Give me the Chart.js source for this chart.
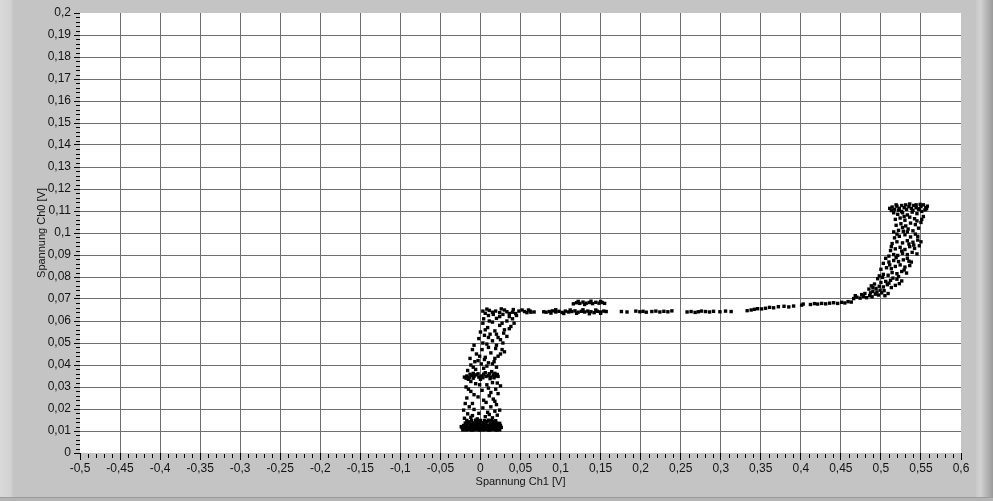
<!DOCTYPE html>
<html>
<head>
<meta charset="utf-8">
<script src="https://cdn.jsdelivr.net/npm/chart.js@4/dist/chart.umd.min.js"></script>
<style>
html,body{margin:0;padding:0;background:#c4c4c4;}
canvas{display:block;}
</style>
</head>
<body>
<canvas id="c" width="993" height="501"></canvas>
<script>
// ---------- DATA ----------
const xTickValues = [-0.5,-0.45,-0.4,-0.35,-0.3,-0.25,-0.2,-0.15,-0.1,-0.05,0,0.05,0.1,0.15,0.2,0.25,0.3,0.35,0.4,0.45,0.5,0.55,0.6];
const xTickLabels = ["-0,5","-0,45","-0,4","-0,35","-0,3","-0,25","-0,2","-0,15","-0,1","-0,05","0","0,05","0,1","0,15","0,2","0,25","0,3","0,35","0,4","0,45","0,5","0,55","0,6"];
const yTickValues = [0,0.01,0.02,0.03,0.04,0.05,0.06,0.07,0.08,0.09,0.1,0.11,0.12,0.13,0.14,0.15,0.16,0.17,0.18,0.19,0.2];
const yTickLabels = ["0","0,01","0,02","0,03","0,04","0,05","0,06","0,07","0,08","0,09","0,1","0,11","0,12","0,13","0,14","0,15","0,16","0,17","0,18","0,19","0,2"];
const xAxisTitle = "Spannung Ch1 [V]";
const yAxisTitle = "Spannung Ch0 [V]";

// Vertical cluster near Ch1 = 0 V : [Ch1, Ch0]
const columnPoints = [
 [-0.022,0.0105],[-0.018,0.0105],[-0.015,0.0106],[-0.011,0.0104],[-0.008,0.0105],[-0.004,0.0106],[-0.001,0.0104],[0.003,0.0105],[0.006,0.0106],[0.010,0.0104],[0.013,0.0105],[0.017,0.0106],[0.020,0.0104],[0.024,0.0105],
 [-0.023,0.0115],[-0.019,0.0114],[-0.016,0.0116],[-0.012,0.0115],[-0.009,0.0114],[-0.005,0.0116],[-0.002,0.0115],[0.002,0.0114],[0.005,0.0116],[0.009,0.0115],[0.012,0.0114],[0.016,0.0116],[0.019,0.0115],[0.023,0.0114],[0.026,0.0116],
 [-0.021,0.0125],[-0.017,0.0126],[-0.013,0.0124],[-0.010,0.0125],[-0.006,0.0126],[-0.003,0.0124],[0.001,0.0125],[0.004,0.0126],[0.008,0.0124],[0.011,0.0125],[0.015,0.0126],[0.018,0.0124],[0.022,0.0125],
 [-0.019,0.0136],[-0.014,0.0135],[-0.009,0.0137],[-0.005,0.0136],[-0.001,0.0135],[0.003,0.0137],[0.007,0.0136],[0.012,0.0135],[0.016,0.0137],[0.020,0.0136],[0.024,0.0135],
 [-0.017,0.0148],[-0.011,0.0147],[-0.006,0.0149],[0.000,0.0148],[0.005,0.0147],[0.010,0.0149],[0.014,0.0148],[0.019,0.0147],
 [-0.020,0.0110],[-0.013,0.0110],[-0.006,0.0111],[0.000,0.0110],[0.007,0.0111],[0.014,0.0110],[0.021,0.0111],[-0.018,0.0130],[-0.011,0.0131],[-0.003,0.0130],[0.006,0.0131],[0.013,0.0130],[0.020,0.0131],[-0.015,0.0142],[-0.003,0.0142],[0.008,0.0143],[0.017,0.0142],[0.025,0.0125],[-0.024,0.0120],
 [-0.020,0.0158],[-0.012,0.0162],[-0.004,0.0155],[0.006,0.0165],[0.015,0.0160],[0.021,0.0172],[-0.016,0.0178],[-0.002,0.0180],[0.009,0.0185],[0.018,0.0190],[0.024,0.0195],[-0.021,0.0195],[-0.008,0.0198],[0.003,0.0205],[0.013,0.0210],[-0.014,0.0210],[0.020,0.0220],
 [-0.010,0.0170],[0.011,0.0175],[-0.019,0.0225],[0.004,0.0240],[0.018,0.0235],[-0.008,0.0265],[0.013,0.0275],[-0.015,0.0290],[0.010,0.0295],[-0.001,0.0310],[0.021,0.0318],[-0.012,0.0325],
 [-0.010,0.0225],[0.007,0.0230],[0.016,0.0245],[-0.017,0.0250],[-0.003,0.0255],[0.011,0.0260],[0.022,0.0270],[-0.012,0.0280],[0.002,0.0285],[0.019,0.0290],[-0.018,0.0300],[0.008,0.0310],[-0.006,0.0315],[0.015,0.0320],[0.025,0.0305],
 [-0.020,0.0345],[-0.017,0.0350],[-0.014,0.0342],[-0.011,0.0352],[-0.008,0.0348],[-0.005,0.0355],[-0.002,0.0345],[0.001,0.0350],[0.004,0.0358],[0.007,0.0348],[0.010,0.0352],[0.013,0.0345],[0.016,0.0355],[0.019,0.0350],[0.022,0.0348],[-0.015,0.0335],[0.000,0.0335],[0.012,0.0338],[-0.009,0.0362],[0.006,0.0365],[0.018,0.0362],
 [-0.018,0.0340],[-0.009,0.0340],[0.003,0.0342],[0.017,0.0342],[-0.013,0.0358],[-0.003,0.0360],[0.011,0.0360],[0.021,0.0357],
 [-0.016,0.0375],[-0.006,0.0380],[0.004,0.0385],[0.014,0.0370],[0.020,0.0390],[-0.012,0.0400],[0.001,0.0405],[0.010,0.0410],[-0.003,0.0420],[0.017,0.0415],
 [-0.009,0.0390],[0.008,0.0395],[0.015,0.0405],[-0.007,0.0415],[0.005,0.0425],[0.018,0.0430],[-0.001,0.0440],
 [-0.013,0.0430],[0.006,0.0435],[0.022,0.0440],[-0.005,0.0450],[0.013,0.0455],[0.030,0.0460],[-0.010,0.0470],[0.002,0.0470],[0.019,0.0475],[0.025,0.0450],
 [0.027,0.0470],[0.010,0.0480],[0.020,0.0490],[0.003,0.0500],[0.025,0.0515],[0.010,0.0525],[0.029,0.0545],[0.020,0.0540],
 [-0.008,0.0490],[0.008,0.0495],[0.028,0.0500],[0.015,0.0510],[-0.002,0.0520],[0.022,0.0525],[0.033,0.0530],[0.005,0.0535],[0.012,0.0540],
 [0.000,0.0550],[0.018,0.0555],[0.030,0.0560],[0.009,0.0570],[0.038,0.0575],[0.024,0.0580],[0.003,0.0590],[0.015,0.0595],[0.042,0.0590],[0.033,0.0600],
 [0.006,0.0560],[0.036,0.0565],[0.027,0.0590],[0.011,0.0600],[0.040,0.0610],[0.024,0.0620],[0.016,0.0630],
 [0.004,0.0610],[0.020,0.0612],[0.036,0.0620],[0.010,0.0625],[0.028,0.0630],[0.045,0.0625],[0.006,0.0635],[0.015,0.0640],[0.024,0.0638],[0.033,0.0642],[0.040,0.0640],[0.048,0.0645],[0.055,0.0643],[0.062,0.0645],[0.003,0.0645],[0.011,0.0648],[0.019,0.0645],[0.052,0.0650],[0.030,0.0650],
 [0.036,0.0634],[0.044,0.0634],[0.058,0.0638],[0.008,0.0654],[0.026,0.0655],[0.041,0.0652],[0.063,0.0640],[0.060,0.0650],[0.067,0.0641]
];

// Plateau around Ch0 = 0.064 ... 0.069 V
const plateauPoints = [
 [0.079,0.0642],[0.082,0.0640],[0.086,0.0643],[0.090,0.0646],[0.094,0.0641],[0.098,0.0644],[0.102,0.0639],[0.106,0.0645],[0.110,0.0641],[0.114,0.0643],[0.118,0.0646],[0.122,0.0640],[0.126,0.0644],[0.130,0.0641],[0.134,0.0645],[0.138,0.0642],[0.142,0.0638],[0.146,0.0644],[0.150,0.0641],[0.154,0.0645],[0.157,0.0643],
 [0.088,0.0636],[0.104,0.0634],[0.120,0.0635],[0.136,0.0633],[0.150,0.0635],[0.094,0.0651],[0.112,0.0650],[0.128,0.0651],[0.144,0.0650],
 [0.116,0.0678],[0.120,0.0683],[0.124,0.0680],[0.128,0.0686],[0.132,0.0681],[0.136,0.0684],[0.140,0.0679],[0.144,0.0685],[0.148,0.0681],[0.152,0.0684],[0.155,0.0680],[0.122,0.0689],[0.138,0.0690],[0.150,0.0689],[0.130,0.0675],
 [0.176,0.0643],[0.183,0.0641],[0.194,0.0645],[0.199,0.0642],[0.203,0.0644],[0.207,0.0640],[0.214,0.0643],[0.219,0.0645],[0.224,0.0641],[0.229,0.0644],[0.234,0.0642],[0.239,0.0646],
 [0.258,0.0641],[0.263,0.0643],[0.268,0.0639],[0.272,0.0642],[0.276,0.0645],[0.281,0.0643],[0.286,0.0641],[0.291,0.0644],[0.299,0.0642],[0.306,0.0645],[0.313,0.0643],
 [0.333,0.0647],[0.338,0.0650],[0.342,0.0653],[0.346,0.0656],[0.351,0.0655],[0.356,0.0658],[0.361,0.0662],[0.366,0.0660],[0.372,0.0665],[0.379,0.0667],[0.385,0.0664],[0.391,0.0668],
 [0.401,0.0672],[0.403,0.0677],[0.412,0.0675],[0.417,0.0679],[0.421,0.0677],[0.426,0.0680],[0.431,0.0678],[0.436,0.0681],[0.441,0.0683],[0.446,0.0680],[0.451,0.0685],[0.455,0.0682],[0.459,0.0688],[0.463,0.0686]
];

// Rising branch near Ch1 = 0.5 V
const risePoints = [
 [0.466,0.0702],[0.470,0.0708],[0.474,0.0704],[0.478,0.0712],[0.482,0.0706],[0.486,0.0715],[0.489,0.0710],[0.493,0.0722],[0.497,0.0718],[0.501,0.0728],[0.505,0.0715],[0.509,0.0725],[0.480,0.0725],[0.490,0.0735],[0.499,0.0740],
 [0.468,0.0715],[0.476,0.0720],[0.487,0.0728],[0.495,0.0732],[0.504,0.0738],
 [0.485,0.0745],[0.490,0.0752],[0.494,0.0748],[0.498,0.0758],[0.503,0.0755],[0.508,0.0765],[0.513,0.0752],[0.518,0.0762],[0.523,0.0770],[0.492,0.0768],[0.500,0.0775],[0.506,0.0780],[0.512,0.0785],[0.520,0.0790],[0.496,0.0792],[0.526,0.0782],
 [0.488,0.0760],[0.510,0.0772],[0.515,0.0795],[0.502,0.0798],[0.522,0.0802],
 [0.498,0.0805],[0.503,0.0812],[0.509,0.0808],[0.514,0.0820],[0.520,0.0815],[0.526,0.0825],[0.532,0.0818],[0.500,0.0835],[0.507,0.0842],[0.513,0.0838],[0.518,0.0848],[0.524,0.0855],[0.530,0.0845],[0.536,0.0852],[0.503,0.0862],[0.510,0.0868],[0.516,0.0875],[0.522,0.0870],[0.528,0.0878],[0.538,0.0868],[0.506,0.0885],[0.533,0.0885],
 [0.529,0.0832],[0.511,0.0855],[0.535,0.0872],[0.519,0.0888],
 [0.510,0.0895],[0.516,0.0902],[0.521,0.0898],[0.527,0.0908],[0.533,0.0902],[0.539,0.0912],[0.545,0.0905],[0.512,0.0920],[0.518,0.0928],[0.524,0.0935],[0.530,0.0925],[0.536,0.0938],[0.542,0.0930],[0.548,0.0942],[0.514,0.0952],[0.520,0.0960],[0.527,0.0955],[0.533,0.0965],[0.540,0.0958],[0.546,0.0968],[0.517,0.0978],[0.523,0.0985],[0.530,0.0992],[0.537,0.0982],[0.543,0.0995],
 [0.526,0.0918],[0.541,0.0945],[0.513,0.0938],[0.535,0.0950],[0.550,0.0960],[0.520,0.0995],[0.546,0.0985],
 [0.516,0.1005],[0.522,0.1012],[0.528,0.1008],[0.534,0.1018],[0.540,0.1010],[0.547,0.1022],[0.519,0.1035],[0.525,0.1042],[0.531,0.1032],[0.537,0.1045],[0.543,0.1038],[0.550,0.1048],[0.518,0.1062],[0.524,0.1068],[0.530,0.1058],[0.536,0.1072],[0.542,0.1065],[0.553,0.1075],[0.521,0.1085],[0.527,0.1092],[0.533,0.1082],[0.539,0.1095],[0.545,0.1088],[0.551,0.1098],[0.516,0.1092],
 [0.533,0.1005],[0.527,0.1025],[0.545,0.1055],[0.551,0.1062],[0.529,0.1075],
 [0.511,0.1112],[0.514,0.1118],[0.517,0.1108],[0.520,0.1122],[0.523,0.1112],[0.526,0.1125],[0.529,0.1115],[0.532,0.1108],[0.535,0.1120],[0.538,0.1112],[0.541,0.1125],[0.544,0.1115],[0.547,0.1108],[0.550,0.1120],[0.553,0.1128],[0.556,0.1115],[0.558,0.1122],[0.513,0.1102],[0.522,0.1104],[0.531,0.1128],[0.540,0.1103],[0.549,0.1130],[0.555,0.1105],[0.526,0.1098],[0.536,0.1132],
 [0.548,0.1110],[0.519,0.1128],[0.544,0.1128],[0.557,0.1110]
];

// ---------- STYLE ----------
const GRID = '#6f6f6f';
const TEXT = '#141414';
const FONT = "'Liberation Sans', Arial, sans-serif";

const allPoints = columnPoints.concat(plateauPoints, risePoints).map(p => ({x: p[0], y: p[1]}));

const framePlugin = {
  id: 'frame',
  beforeDraw(chart) {
    const {ctx, width, height, chartArea: a} = chart;
    ctx.save();
    ctx.fillStyle = '#c4c4c4';
    ctx.fillRect(0, 0, width, height);
    let g = ctx.createLinearGradient(0, 0, 13, 0);
    g.addColorStop(0, '#d9d9d9'); g.addColorStop(0.8, '#d3d3d3'); g.addColorStop(1, '#c8c8c8');
    ctx.fillStyle = g; ctx.fillRect(0, 0, 13, height);
    g = ctx.createLinearGradient(976, 0, width, 0);
    g.addColorStop(0, '#c8c8c8'); g.addColorStop(0.25, '#d2d2d2'); g.addColorStop(1, '#9a9a9a');
    ctx.fillStyle = g; ctx.fillRect(976, 0, width - 976, height);
    ctx.fillStyle = '#9c9c9c'; ctx.fillRect(0, 497, width, 1);
    ctx.fillStyle = '#b4b4b4'; ctx.fillRect(0, 498, width, height - 498);
    ctx.fillStyle = '#ffffff';
    ctx.fillRect(a.left, a.top, a.right - a.left, a.bottom - a.top);
    ctx.restore();
  },
  afterDraw(chart) {
    const {ctx, chartArea: a, scales: {x, y}} = chart;
    ctx.save();
    ctx.strokeStyle = '#000';
    ctx.lineWidth = 1;
    ctx.beginPath();
    for (let i = 0; i <= 110; i++) {
      if (i % 5 === 0) continue;
      const px = Math.round(x.getPixelForValue(-0.5 + i * 0.01)) + 0.5;
      ctx.moveTo(px, a.bottom + 1); ctx.lineTo(px, a.bottom + 5);
    }
    for (let i = 0; i <= 100; i++) {
      if (i % 5 === 0) continue;
      const py = Math.round(y.getPixelForValue(i * 0.002)) + 0.5;
      ctx.moveTo(a.left - 4, py); ctx.lineTo(a.left, py);
    }
    ctx.stroke();
    ctx.restore();
  }
};

new Chart(document.getElementById('c'), {
  type: 'scatter',
  data: {
    datasets: [{
      data: allPoints,
      backgroundColor: '#000',
      borderWidth: 0,
      pointStyle: 'rect',
      pointRadius: 2.4,
      pointHoverRadius: 2.4
    }]
  },
  plugins: [framePlugin],
  options: {
    responsive: false,
    animation: false,
    events: [],
    layout: {padding: {left: 0, right: 32, top: 13, bottom: 0}},
    plugins: {legend: {display: false}, tooltip: {enabled: false}},
    scales: {
      x: {
        type: 'linear', min: -0.5, max: 0.6,
        afterBuildTicks: s => { s.ticks = xTickValues.map(v => ({value: v})); },
        afterFit: s => { s.height = 48; },
        ticks: {
          callback: (v, i) => xTickLabels[i],
          autoSkip: false, maxRotation: 0, padding: 1,
          color: TEXT, font: {family: FONT, size: 12}
        },
        grid: {
          color: c => (c.index === 0 || c.index === xTickValues.length - 1) ? 'rgba(0,0,0,0)' : GRID,
          lineWidth: 1, drawTicks: true, tickLength: 7, tickColor: '#000', tickWidth: 1
        },
        border: {display: false},
        title: {display: true, text: xAxisTitle, color: TEXT, font: {family: FONT, size: 11}, padding: {top: 0, bottom: 12}}
      },
      y: {
        type: 'linear', min: 0, max: 0.2,
        afterBuildTicks: s => { s.ticks = yTickValues.map(v => ({value: v})); },
        afterFit: s => { s.width = 80; },
        ticks: {
          callback: (v, i) => yTickLabels[i],
          autoSkip: false, padding: 3,
          color: TEXT, font: {family: FONT, size: 12}
        },
        grid: {
          color: c => (c.index === 0 || c.index === yTickValues.length - 1) ? 'rgba(0,0,0,0)' : GRID,
          lineWidth: 1, drawTicks: true, tickLength: 6, tickColor: '#000', tickWidth: 1
        },
        border: {display: false},
        title: {display: true, text: yAxisTitle, color: TEXT, font: {family: FONT, size: 11}, padding: {top: 35, bottom: 0}}
      }
    }
  }
});
</script>
</body>
</html>
